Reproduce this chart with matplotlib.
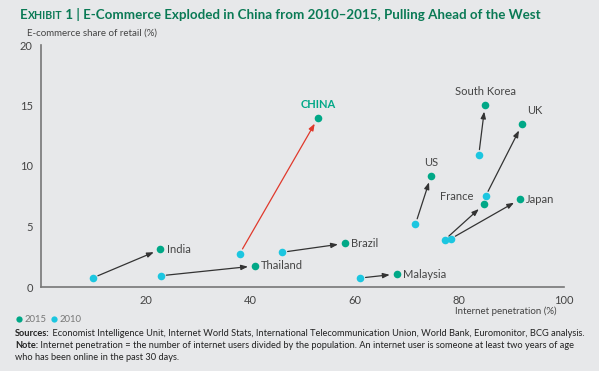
import matplotlib.pyplot as plt
from matplotlib.lines import Line2D

countries = ['India', 'Thailand', 'CHINA', 'Brazil', 'Malaysia', 'US',
             'South Korea', 'UK', 'France', 'Japan']
pen_2010 = [9.9, 22.9, 38.0, 46.1, 61.0, 71.6, 83.7, 85.0, 77.2, 78.3]
share_2010 = [0.75, 0.93, 2.75, 2.87, 0.74, 5.2, 10.9, 7.5, 3.9, 3.97]
pen_2015 = [22.8, 40.9, 53.0, 58.1, 68.0, 74.6, 84.9, 92.0, 84.7, 91.6]
share_2015 = [3.1, 1.74, 14.0, 3.6, 1.07, 9.2, 15.07, 13.45, 6.83, 7.25]

x_ticks = [20, 40, 60, 80, 100]
y_ticks = [0, 5, 10, 15, 20]

bg = '#e7e8ea'
green = '#00a887'
cyan = '#1cc6e0'
title_green = '#0a7a55'
grey_txt = '#444444'

plt.rcParams['font.family'] = ['Lato', 'DejaVu Sans']

fig = plt.figure(figsize=(5.99, 3.71), dpi=100, facecolor=bg)
ax = fig.add_axes([41 / 599, 1 - 287 / 371, 523 / 599, 242 / 371], facecolor=bg)

# arrows 2010 -> 2015
for i, c in enumerate(countries):
    col = '#e0392c' if c == 'CHINA' else '#333333'
    ax.annotate('', xy=(pen_2015[i], share_2015[i]), xytext=(pen_2010[i], share_2010[i]),
                arrowprops=dict(arrowstyle='-|>,head_length=0.4,head_width=0.15',
                                color=col, lw=0.9, shrinkA=4, shrinkB=5))

ax.scatter(pen_2010, share_2010, s=30, color=cyan, zorder=3, linewidths=0)
ax.scatter(pen_2015, share_2015, s=30, color=green, zorder=3, linewidths=0)

# country labels
lab = {
    'India': (1.2, 0, 'left', 'center'),
    'Thailand': (1.2, 0, 'left', 'center'),
    'Brazil': (1.2, 0, 'left', 'center'),
    'Malaysia': (1.2, 0, 'left', 'center'),
    'Japan': (1.2, 0, 'left', 'center'),
    'UK': (1.0, 0.7, 'left', 'bottom'),
    'US': (0, 0.6, 'center', 'bottom'),
    'South Korea': (0, 0.6, 'center', 'bottom'),
}
for i, c in enumerate(countries):
    if c in lab:
        dx, dy, ha, va = lab[c]
        ax.text(pen_2015[i] + dx, share_2015[i] + dy, c, ha=ha, va=va,
                fontsize=8, color=grey_txt)
i = countries.index('CHINA')
ax.text(pen_2015[i], share_2015[i] + 0.6, 'CHINA', ha='center', va='bottom',
        fontsize=8, color=green, fontweight='bold')
i = countries.index('France')
ax.text(pen_2010[i] + 5.5, 7.45, 'France', ha='right', va='center',
        fontsize=8, color=grey_txt)

ax.set_xlim(0, 100)
ax.set_ylim(0, 20)
ax.set_xticks(x_ticks)
ax.set_yticks(y_ticks)
ax.tick_params(length=0, labelsize=8, labelcolor=grey_txt, pad=6)
for s in ['top', 'right']:
    ax.spines[s].set_visible(False)
for s in ['left', 'bottom']:
    ax.spines[s].set_color('#777777')
    ax.spines[s].set_linewidth(1.2)

fig.text(27 / 599, 1 - 33 / 371, 'E-commerce share of retail (%)', fontsize=7,
         color=grey_txt, va='center')
fig.text(557 / 599, 1 - 311 / 371, 'Internet penetration (%)', fontsize=7,
         color=grey_txt, va='center', ha='right')

# title with small caps "EXHIBIT"
fig.canvas.draw()
ty = 1 - 19 / 371
parts = [('E', 9.6), ('XHIBIT', 7.6), (' 1 | E-Commerce Exploded in China from 2010\u20132015, Pulling Ahead of the West', 9.6)]
xpos = 20
for t, fs in parts:
    tt = fig.text(xpos / 599, ty, t, fontsize=fs, fontweight='bold', color=title_green, va='baseline')
    fig.canvas.draw()
    xpos = tt.get_window_extent().x1

# legend
ly = 1 - 320 / 371
dy = 1.5 / 371
fig.add_artist(Line2D([19 / 599], [ly + dy], marker='o', ms=4.5, color=green, mew=0, transform=fig.transFigure))
fig.text(25 / 599, ly, '2015', fontsize=6.8, color='#777777', va='center')
fig.add_artist(Line2D([54 / 599], [ly + dy], marker='o', ms=4.5, color=cyan, mew=0, transform=fig.transFigure))
fig.text(60 / 599, ly, '2010', fontsize=6.8, color='#777777', va='center')

notes = [
    (333, 'Sources:', ' Economist Intelligence Unit, Internet World Stats, International Telecommunication Union, World Bank, Euromonitor, BCG analysis.'),
    (345, 'Note:', ' Internet penetration = the number of internet users divided by the population. An internet user is someone at least two years of age'),
    (357, '', 'who has been online in the past 30 days.'),
]
for y, b, t in notes:
    if b:
        tb = fig.text(15 / 599, 1 - y / 371, b, fontsize=6.7, fontweight='bold', color='#222222', va='center')
        fig.canvas.draw()
        bb = tb.get_window_extent()
        fig.text(bb.x1 / 599, 1 - y / 371, t, fontsize=6.7, color='#222222', va='center')
    else:
        fig.text(15 / 599, 1 - y / 371, t, fontsize=6.7, color='#222222', va='center')

fig.savefig('out.png', dpi=100, facecolor=bg)
